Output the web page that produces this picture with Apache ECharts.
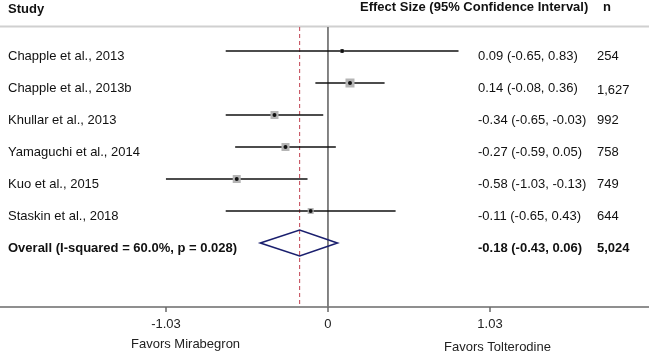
<!DOCTYPE html>
<html>
<head>
<meta charset="utf-8">
<script src="https://cdn.jsdelivr.net/npm/echarts@6/dist/echarts.min.js"></script>
<style>
html, body { margin: 0; padding: 0; background: #fff; }
#chart { width: 649px; height: 353px; }
</style>
</head>
<body>
<div id="chart"></div>
<script>
// forest plot data
var studies = ['Chapple et al., 2013', 'Chapple et al., 2013b', 'Khullar et al., 2013',
  'Yamaguchi et al., 2014', 'Kuo et al., 2015', 'Staskin et al., 2018'];
var effect = [0.09, 0.14, -0.34, -0.27, -0.58, -0.11];
var lower = [-0.65, -0.08, -0.65, -0.59, -1.03, -0.65];
var upper = [0.83, 0.36, -0.03, 0.05, -0.13, 0.43];
var nText = ['254', '1,627', '992', '758', '749', '644'];
var boxSize = [4, 9, 8, 8, 8, 6];
var overallLabel = 'Overall (I-squared = 60.0%, p = 0.028)';
var overall = [-0.18, -0.43, 0.06];
var overallN = '5,024';
var tickValues = [-1.03, 0, 1.03];

var FONT = '"Liberation Sans", Arial, sans-serif';
var TXT_DY = 5; // text sits a little below the CI line

function ciText(e, l, u) {
  return e.toFixed(2) + ' (' + l.toFixed(2) + ', ' + u.toFixed(2) + ')';
}

var rows = studies.map(function (s, i) {
  return [i, effect[i], lower[i], upper[i], boxSize[i]];
});

var chart = echarts.init(document.getElementById('chart'));

var option = {
  animation: false,
  grid: { left: 0, right: 0, top: 27, bottom: 46 },
  xAxis: {
    type: 'value',
    min: -2.085,
    max: 2.041,
    splitLine: { show: false },
    axisLine: { show: true, onZero: false, lineStyle: { color: '#6a6a6a', width: 1.5 } },
    axisTick: { show: true, customValues: tickValues, length: 5, lineStyle: { color: '#6a6a6a', width: 1.5 } },
    axisLabel: {
      customValues: tickValues,
      color: '#222',
      fontSize: 13,
      fontFamily: FONT,
      margin: 11,
      formatter: function (v) { return v === 0 ? '0' : v.toFixed(2); }
    }
  },
  yAxis: {
    type: 'value',
    inverse: true,
    min: -0.75,
    max: 8.0,
    show: false
  },
  graphic: [
    { type: 'line', shape: { x1: 0, y1: 26.5, x2: 649, y2: 26.5 }, style: { stroke: '#d0d0d0', lineWidth: 2 } },
    { type: 'text', left: 8, top: 3, style: { text: 'Study', font: 'bold 13px ' + FONT, fill: '#111' } },
    { type: 'text', left: 360, top: 1, style: { text: 'Effect Size (95% Confidence Interval)', font: 'bold 13px ' + FONT, fill: '#111' } },
    { type: 'text', left: 603, top: 1, style: { text: 'n', font: 'bold 13px ' + FONT, fill: '#111' } },
    { type: 'text', left: 131, top: 338, style: { text: 'Favors Mirabegron', font: '13px ' + FONT, fill: '#222' } },
    { type: 'text', left: 444, top: 341, style: { text: 'Favors Tolterodine', font: '13px ' + FONT, fill: '#222' } }
  ],
  series: [
    {
      // zero line
      type: 'line',
      data: [[0, -0.75], [0, 8.0]],
      symbol: 'none',
      lineStyle: { color: '#777', width: 1.8 },
      silent: true,
      z: 1
    },
    {
      // overall effect dashed line
      type: 'line',
      data: [[overall[0], -0.75], [overall[0], 8.0]],
      symbol: 'none',
      lineStyle: { color: '#c04050', width: 1, type: [4, 3] },
      silent: true,
      z: 1
    },
    {
      type: 'custom',
      data: rows,
      z: 3,
      renderItem: function (params, api) {
        var i = api.value(0);
        var p0 = api.coord([api.value(2), i]);
        var p1 = api.coord([api.value(3), i]);
        var c = api.coord([api.value(1), i]);
        var s = api.value(4);
        var ty = c[1] + TXT_DY;
        return {
          type: 'group',
          children: [
            { type: 'line', shape: { x1: p0[0], y1: p0[1], x2: p1[0], y2: p1[1] }, style: { stroke: '#111', lineWidth: 1.5 } },
            { type: 'rect', shape: { x: c[0] - s / 2, y: c[1] - s / 2, width: s, height: s }, style: { fill: '#b5b5b5' } },
            { type: 'circle', shape: { cx: c[0], cy: c[1], r: 2 }, style: { fill: '#111' } },
            { type: 'text', x: 8, y: ty, style: { text: studies[i], font: '13px ' + FONT, fill: '#111', verticalAlign: 'middle' } },
            { type: 'text', x: 478, y: ty, style: { text: ciText(effect[i], lower[i], upper[i]), font: '13px ' + FONT, fill: '#111', verticalAlign: 'middle' } },
            { type: 'text', x: 597, y: ty + (i === 1 ? 2 : 0), style: { text: nText[i], font: '13px ' + FONT, fill: '#111', verticalAlign: 'middle' } }
          ]
        };
      }
    },
    {
      type: 'custom',
      data: [[6, overall[0], overall[1], overall[2]]],
      z: 3,
      renderItem: function (params, api) {
        var i = api.value(0);
        var c = api.coord([api.value(1), i]);
        var l = api.coord([api.value(2), i]);
        var r = api.coord([api.value(3), i]);
        var h = 13;
        var ty = c[1] + TXT_DY;
        return {
          type: 'group',
          children: [
            { type: 'polygon', shape: { points: [[l[0], c[1]], [c[0], c[1] - h], [r[0], c[1]], [c[0], c[1] + h]] },
              style: { fill: 'rgba(255,255,255,0)', stroke: '#1a1f6e', lineWidth: 1.6 } },
            { type: 'text', x: 8, y: ty, style: { text: overallLabel, font: 'bold 13px ' + FONT, fill: '#111', verticalAlign: 'middle' } },
            { type: 'text', x: 478, y: ty, style: { text: ciText(overall[0], overall[1], overall[2]), font: 'bold 13px ' + FONT, fill: '#111', verticalAlign: 'middle' } },
            { type: 'text', x: 597, y: ty, style: { text: overallN, font: 'bold 13px ' + FONT, fill: '#111', verticalAlign: 'middle' } }
          ]
        };
      }
    }
  ]
};

chart.setOption(option);
</script>
</body>
</html>
